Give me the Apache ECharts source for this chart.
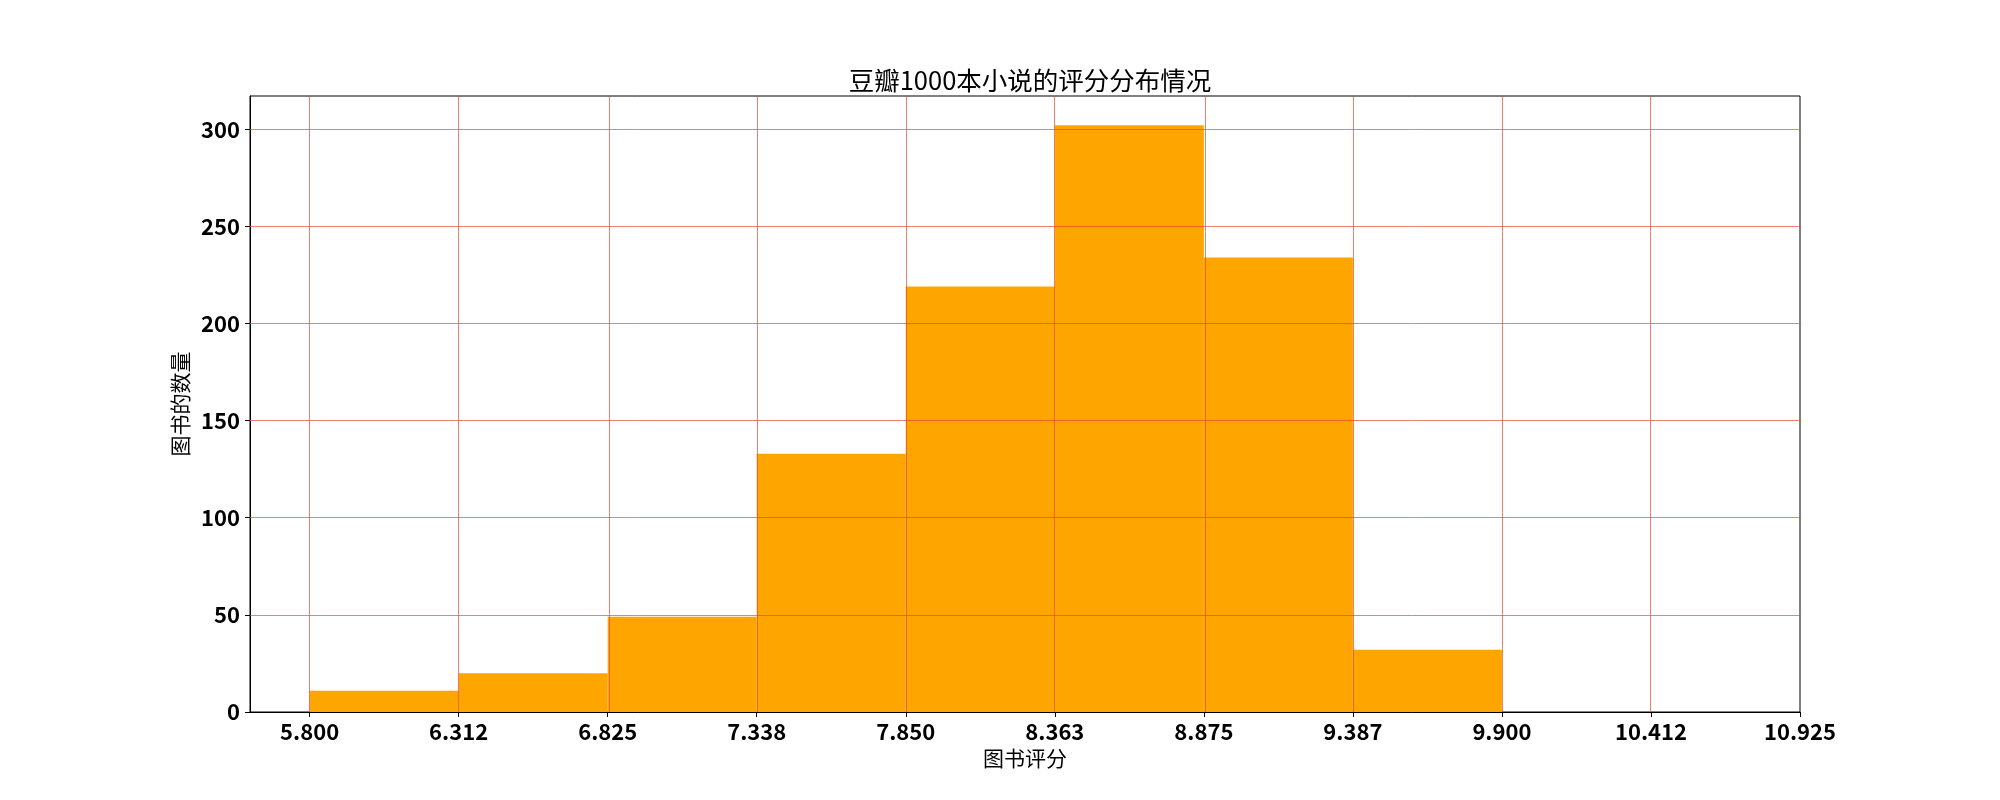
<!DOCTYPE html>
<html>
<head>
<meta charset="utf-8">
<script src="https://cdn.jsdelivr.net/npm/echarts@6/dist/echarts.min.js"></script>
<style>
html,body{margin:0;padding:0;background:#fff;}
#chart{width:2000px;height:800px;}
</style>
</head>
<body>
<div id="chart"></div>
<script>
// Data
const binEdges = [5.8, 6.3125, 6.825, 7.3375, 7.85, 8.3625, 8.875, 9.3875, 9.9];
const binCounts = [11, 20, 49, 133, 219, 302, 234, 32];
const xTickValues = [5.8, 6.3125, 6.825, 7.3375, 7.85, 8.3625, 8.875, 9.3875, 9.9, 10.4125, 10.925];
const xTickLabels = ['5.800', '6.312', '6.825', '7.338', '7.850', '8.363', '8.875', '9.387', '9.900', '10.412', '10.925'];
const yTickValues = [0, 50, 100, 150, 200, 250, 300];
const titleText = '豆瓣1000本小说的评分分布情况';
const xName = '图书评分';
const yName = '图书的数量';

const FONT = '"Noto Sans CJK SC", "Noto Sans", sans-serif';
const histData = binCounts.map((c, i) => [binEdges[i], binEdges[i + 1], c]);
const gridColor = 'rgba(225,70,45,0.85)';

const chart = echarts.init(document.getElementById('chart'), null, {renderer: 'canvas'});
chart.setOption({
  animation: false,
  backgroundColor: '#fff',
  title: {
    text: titleText,
    left: 1025,
    top: 63,
    textAlign: 'center',
    textStyle: {fontFamily: FONT, fontSize: 25.5, fontWeight: 'normal', color: '#000'}
  },
  grid: {
    left: 250, right: 200, top: 96, bottom: 88,
    show: true, borderColor: '#000', borderWidth: 1, backgroundColor: 'transparent'
  },
  xAxis: {
    type: 'value',
    min: 5.595,
    max: 10.925,
    name: xName,
    nameLocation: 'middle',
    nameGap: 34,
    nameTextStyle: {fontFamily: FONT, fontSize: 21, color: '#000'},
    axisLine: {show: true, onZero: false, lineStyle: {color: '#000', width: 1}},
    axisTick: {show: true, length: 5, customValues: xTickValues, lineStyle: {color: '#000'}},
    axisLabel: {
      show: true,
      customValues: xTickValues,
      margin: 9,
      fontFamily: FONT, fontSize: 22, fontWeight: 'bold', color: '#000',
      formatter: function (v) {
        let best = 0, d = Infinity;
        xTickValues.forEach((t, i) => { if (Math.abs(t - v) < d) { d = Math.abs(t - v); best = i; } });
        return xTickLabels[best];
      }
    },
    splitLine: {show: false}
  },
  yAxis: {
    type: 'value',
    min: 0,
    max: 317.1,
    name: yName,
    nameLocation: 'middle',
    nameGap: 53,
    nameTextStyle: {fontFamily: FONT, fontSize: 21, color: '#000'},
    axisLine: {show: true, lineStyle: {color: '#000', width: 1}},
    axisTick: {show: true, length: 5, customValues: yTickValues, lineStyle: {color: '#000'}},
    axisLabel: {
      show: true,
      customValues: yTickValues,
      margin: 10,
      fontFamily: FONT, fontSize: 22, fontWeight: 'bold', color: '#000'
    },
    splitLine: {show: false}
  },
  series: [
    {
      type: 'custom',
      z: 2,
      data: histData,
      encode: {x: [0, 1], y: 2},
      renderItem: function (params, api) {
        const p0 = api.coord([api.value(0), api.value(2)]);
        const p1 = api.coord([api.value(1), 0]);
        return {
          type: 'rect',
          shape: {x: p0[0], y: p0[1], width: p1[0] - p0[0], height: p1[1] - p0[1]},
          style: {fill: '#FFA500'}
        };
      }
    },
    {
      type: 'line',
      z: 5,
      data: [],
      silent: true,
      markLine: {
        silent: true,
        symbol: 'none',
        label: {show: false},
        lineStyle: {color: gridColor, width: 0.8, type: 'solid'},
        emphasis: {disabled: true},
        data: xTickValues.slice(0, -1).map(v => ({xAxis: v}))
          .concat(yTickValues.filter(v => v > 0).map(v => ({yAxis: v})))
      }
    }
  ]
});
</script>
</body>
</html>
